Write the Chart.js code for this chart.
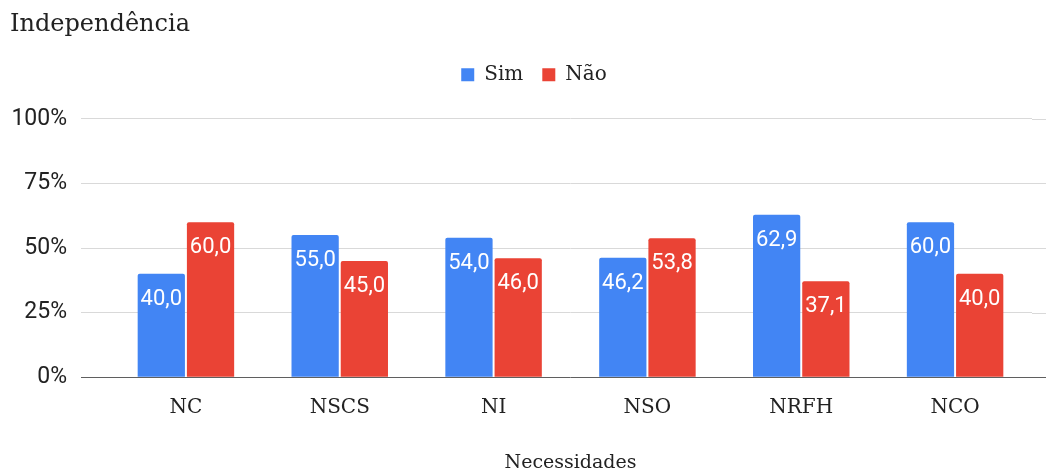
<!DOCTYPE html>
<html>
<head>
<meta charset="utf-8">
<script src="https://cdn.jsdelivr.net/npm/chart.js@4"></script>
<style>
  html, body { margin: 0; padding: 0; background: #fff; }
  #wrap { width: 1046px; height: 474px; }
</style>
</head>
<body>
<div id="wrap"><canvas id="independenciaChart" width="1046" height="474"></canvas></div>
<script>
const categories = ['NC', 'NSCS', 'NI', 'NSO', 'NRFH', 'NCO'];
const simValues = [40.0, 55.0, 54.0, 46.2, 62.9, 60.0];
const naoValues = [60.0, 45.0, 46.0, 53.8, 37.1, 40.0];
const yTicks = [0, 25, 50, 75, 100];

const serif = '"DejaVu Serif", serif';
const sans = 'Roboto, "Liberation Sans", sans-serif';

// white value labels inside the top of each bar
const barLabels = {
    id: 'barLabels',
    afterDatasetsDraw(chart) {
        const ctx = chart.ctx;
        ctx.save();
        ctx.fillStyle = '#ffffff';
        ctx.font = '22px ' + sans;
        ctx.textAlign = 'center';
        ctx.textBaseline = 'alphabetic';
        chart.data.datasets.forEach((ds, i) => {
            chart.getDatasetMeta(i).data.forEach((bar, j) => {
                const txt = ds.data[j].toFixed(1).replace('.', ',');
                ctx.fillText(txt, bar.x, bar.y + 31);
            });
        });
        ctx.restore();
    }
};

// grid lines run on to the right edge of the picture
const gridToEdge = {
    id: 'gridToEdge',
    beforeDatasetsDraw(chart) {
        const ctx = chart.ctx;
        const area = chart.chartArea;
        const y = chart.scales.y;
        ctx.save();
        ctx.lineWidth = 1;
        yTicks.forEach(v => {
            const py = Math.round(y.getPixelForValue(v)) + 0.5;
            ctx.strokeStyle = v === 0 ? '#5f5f5f' : '#d9d9d9';
            ctx.beginPath();
            ctx.moveTo(area.right, py);
            ctx.lineTo(chart.width, py);
            ctx.stroke();
        });
        ctx.restore();
    }
};

// more room under the legend, and nudge it a bit right
const legendGap = {
    id: 'legendGap',
    beforeInit(chart) {
        const fit = chart.legend.fit;
        chart.legend.fit = function () {
            fit.bind(chart.legend)();
            this.height += 24;
        };
    },
    afterLayout(chart) {
        chart.legend.left += 13;
        chart.legend.right += 13;
    }
};

const chartData = {
    labels: categories,
    datasets: [{
        label: 'Sim',
        data: simValues,
        backgroundColor: '#4285F4',
        borderRadius: 2,
        barPercentage: 0.96,
        categoryPercentage: 0.64
    }, {
        label: 'Não',
        data: naoValues,
        backgroundColor: '#EA4335',
        borderRadius: 2,
        barPercentage: 0.96,
        categoryPercentage: 0.64
    }]
};

const options = {
    responsive: false,
    animation: false,
    layout: { padding: { left: 10, right: 14, top: 0, bottom: 0 } },
    plugins: {
        title: {
            display: true,
            text: 'Independência',
            align: 'start',
            color: '#222',
            font: { family: serif, size: 24, weight: 'normal' },
            padding: { top: 10, bottom: 7 }
        },
        legend: {
            position: 'top',
            labels: {
                boxWidth: 13,
                boxHeight: 13,
                color: '#222',
                font: { family: serif, size: 20 },
                padding: 19
            }
        },
        tooltip: { enabled: false }
    },
    scales: {
        x: {
            grid: { display: false },
            border: { display: false },
            ticks: {
                color: '#222',
                font: { family: serif, size: 20 },
                padding: 11
            },
            title: {
                display: true,
                text: 'Necessidades',
                color: '#222',
                font: { family: serif, size: 19 },
                padding: { top: 20, bottom: 0 }
            }
        },
        y: {
            min: 0,
            max: 100,
            afterBuildTicks: axis => {
                axis.ticks = yTicks.map(v => ({ value: v }));
            },
            afterFit: axis => {
                axis.width = 99;
            },
            grid: {
                color: c => c.tick && c.tick.value === 0 ? '#5f5f5f' : '#d9d9d9',
                tickLength: 28,
                drawTicks: true
            },
            border: { display: false },
            ticks: {
                color: '#222',
                font: { family: sans, size: 23 },
                padding: 14,
                callback: v => v + '%'
            }
        }
    }
};

const ctx = document.getElementById('independenciaChart').getContext('2d');
new Chart(ctx, {
    type: 'bar',
    data: chartData,
    options: options,
    plugins: [barLabels, gridToEdge, legendGap]
});
</script>
</body>
</html>
